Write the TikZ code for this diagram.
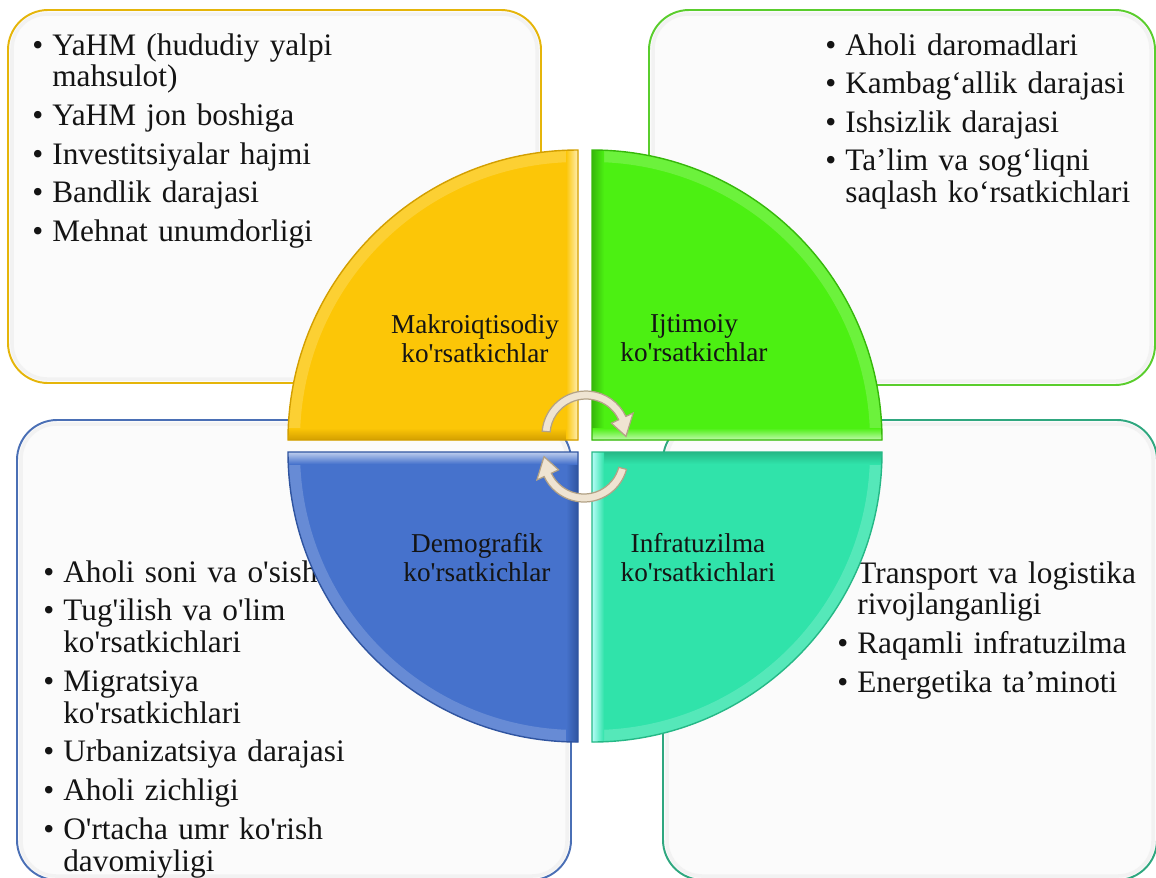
\documentclass[tikz,border=0pt]{standalone}
\usepackage{fontspec}
\setmainfont{Liberation Serif}
\usetikzlibrary{calc}

\definecolor{goldline}{HTML}{E5B50A}
\definecolor{greenline}{HTML}{5ACD2D}
\definecolor{blueline}{HTML}{4A6FB5}
\definecolor{tealline}{HTML}{2FA77F}
\definecolor{goldfill}{HTML}{FCC607}
\definecolor{greenfill}{HTML}{4CF012}
\definecolor{bluefill}{HTML}{4672CC}
\definecolor{tealfill}{HTML}{30E3AA}
\definecolor{goldedge}{HTML}{D39F00}
\definecolor{greenedge}{HTML}{36B80A}
\definecolor{blueedge}{HTML}{2F54A0}
\definecolor{tealedge}{HTML}{25B886}
\definecolor{arrowfill}{HTML}{EFE4D2}
\definecolor{arrowline}{HTML}{B3A286}
\definecolor{inktext}{HTML}{141414}

\newlength{\bulw}\setlength{\bulw}{0.4cm}
\newcommand{\itm}[1]{\par\hangindent=\bulw\hangafter=1\noindent\makebox[\bulw][l]{\textbullet}#1}
\newcommand{\apo}{\textquotesingle}

\begin{document}
\begin{tikzpicture}[x=0.02cm, y=-0.02cm,
  listbox/.style={rounded corners=0.8cm, line width=1.1pt, fill=black!1.5},
  innershade/.style={draw=black!5, line width=2pt, rounded corners=0.7cm},
  listtext/.style={anchor=north west, inner sep=0pt, text width=9cm, align=left,
                   text=inktext, font=\fontsize{17.8}{18.2}\selectfont,
                   execute at begin node={\setlength{\parskip}{3.8pt}}},
  quarter/.style={line width=0.8pt},
  arcband/.style={line width=0.24cm, opacity=0.3},
  sectorlabel/.style={align=center, inner sep=0pt, text=inktext,
                      font=\fontsize{15.5}{16.5}\selectfont},
  cyclearrow/.style={fill=arrowfill, draw=arrowline, line width=0.7pt},
]
\useasboundingbox (0,0) rectangle (1156,877);
\clip (0,0) rectangle (1156,877);

% ── Boxes behind the circle ────────────────────────────────────────────
\draw[listbox, draw=goldline]  (8,10)   rectangle (541,383);
\draw[listbox, draw=greenline] (649,10) rectangle (1155,385);
\draw[listbox, draw=blueline]  (17,420) rectangle (571,880);
\draw[listbox, draw=tealline]  (663,420) rectangle (1157,880);
\draw[innershade] (12,14)   rectangle (537,379);
\draw[innershade] (653,14)  rectangle (1151,381);
\draw[innershade] (21,424)  rectangle (567,876);
\draw[innershade] (667,424) rectangle (1153,876);

% ── Box texts ──────────────────────────────────────────────────────────
\node[listtext] (macroList) at (32,16)
  {\itm{YaHM (hududiy yalpi\newline mahsulot)}
   \itm{YaHM jon boshiga}
   \itm{Investitsiyalar hajmi}
   \itm{Bandlik darajasi}
   \itm{Mehnat unumdorligi}\par};

\node[listtext] (socialList) at (825,16)
  {\itm{Aholi daromadlari}
   \itm{Kambag‘allik darajasi}
   \itm{Ishsizlik darajasi}
   \itm{Ta’lim va sog‘liqni\newline saqlash ko‘rsatkichlari}\par};

\node[listtext] (demoList) at (43,543)
  {\itm{Aholi soni va o\apo sish}
   \itm{Tug\apo ilish va o\apo lim\newline ko\apo rsatkichlari}
   \itm{Migratsiya\newline ko\apo rsatkichlari}
   \itm{Urbanizatsiya darajasi}
   \itm{Aholi zichligi}
   \itm{O\apo rtacha umr ko\apo rish\newline davomiyligi}\par};

\node[listtext] (infraList) at (837,544)
  {\itm{Transport va logistika\newline rivojlanganligi}
   \itm{Raqamli infratuzilma}
   \itm{Energetika ta’minoti}\par};

% ── Quarter circle ─────────────────────────────────────────────────────
\coordinate (cMacro)  at (578,440);
\coordinate (cSocial) at (592,440);
\coordinate (cDemo)   at (578,452);
\coordinate (cInfra)  at (592,452);

% Makroiqtisodiy (top left)
\begin{scope}[shift={(cMacro)}]
  \fill[goldfill] (0,0) -- (-290,0) arc[start angle=180, end angle=270, radius=290] -- cycle;
  \clip (0,0) -- (-290,0) arc[start angle=180, end angle=270, radius=290] -- cycle;
  \draw[arcband, goldfill!40!white] (-284,0) arc[start angle=180, end angle=270, radius=284];
  \shade[top color=goldfill, bottom color=goldedge] (-290,-12) rectangle (0,0);
  \shade[left color=goldfill, right color=goldfill!30!white] (-12,-290) rectangle (0,0);
\end{scope}
\draw[quarter, goldedge]
  (cMacro) -- ++(-290,0) arc[start angle=180, end angle=270, radius=290] -- cycle;

% Ijtimoiy (top right)
\begin{scope}[shift={(cSocial)}]
  \fill[greenfill] (0,0) -- (0,-290) arc[start angle=270, end angle=360, radius=290] -- cycle;
  \clip (0,0) -- (0,-290) arc[start angle=270, end angle=360, radius=290] -- cycle;
  \draw[arcband, greenfill!40!white] (0,-284) arc[start angle=270, end angle=360, radius=284];
  \shade[left color=greenedge, right color=greenfill] (0,-290) rectangle (12,0);
  \shade[top color=greenfill, bottom color=greenfill!35!white] (0,-12) rectangle (290,0);
\end{scope}
\draw[quarter, greenedge]
  (cSocial) -- ++(0,-290) arc[start angle=270, end angle=360, radius=290] -- cycle;

% Infratuzilma (bottom right)
\begin{scope}[shift={(cInfra)}]
  \fill[tealfill] (0,0) -- (290,0) arc[start angle=0, end angle=90, radius=290] -- cycle;
  \clip (0,0) -- (290,0) arc[start angle=0, end angle=90, radius=290] -- cycle;
  \draw[arcband, tealfill!40!white] (284,0) arc[start angle=0, end angle=90, radius=284];
  \shade[top color=tealedge, bottom color=tealfill] (0,0) rectangle (290,12);
  \shade[left color=tealfill!30!cyan!30!white, right color=tealfill] (0,0) rectangle (12,290);
\end{scope}
\draw[quarter, tealedge]
  (cInfra) -- ++(290,0) arc[start angle=0, end angle=90, radius=290] -- cycle;

% Demografik (bottom left)
\begin{scope}[shift={(cDemo)}]
  \fill[bluefill] (0,0) -- (0,290) arc[start angle=90, end angle=180, radius=290] -- cycle;
  \clip (0,0) -- (0,290) arc[start angle=90, end angle=180, radius=290] -- cycle;
  \draw[arcband, bluefill!40!white] (0,284) arc[start angle=90, end angle=180, radius=284];
  \shade[left color=bluefill, right color=blueedge] (-12,0) rectangle (0,290);
  \shade[top color=bluefill!35!white, bottom color=bluefill] (-290,0) rectangle (0,12);
\end{scope}
\draw[quarter, blueedge]
  (cDemo) -- ++(0,290) arc[start angle=90, end angle=180, radius=290] -- cycle;

\node[sectorlabel] (macroLabel)  at (475,339) {Makroiqtisodiy\\ko\apo rsatkichlar};
\node[sectorlabel] (socialLabel) at (694,338) {Ijtimoiy\\ko\apo rsatkichlar};
\node[sectorlabel] (demoLabel)   at (477,558) {Demografik\\ko\apo rsatkichlar};
\node[sectorlabel] (infraLabel)  at (698,558) {Infratuzilma\\ko\apo rsatkichlari};

% ── Cycle arrows ───────────────────────────────────────────────────────
\coordinate (topTurn) at (586,435);
\coordinate (botTurn) at (584,458);

\filldraw[cyclearrow]
  ($(topTurn)+(185:44)$) arc[start angle=185, end angle=335, radius=44]
  -- ($(topTurn)+(335:52)$) -- ($(topTurn)+(2:40)$) -- ($(topTurn)+(335:28)$)
  -- ($(topTurn)+(335:36)$) arc[start angle=335, end angle=185, radius=36] -- cycle;
\filldraw[cyclearrow]
  ($(botTurn)+(15:44)$) arc[start angle=15, end angle=155, radius=44]
  -- ($(botTurn)+(155:52)$) -- ($(botTurn)+(182:40)$) -- ($(botTurn)+(155:28)$)
  -- ($(botTurn)+(155:36)$) arc[start angle=155, end angle=15, radius=36] -- cycle;

\end{tikzpicture}
\end{document}
